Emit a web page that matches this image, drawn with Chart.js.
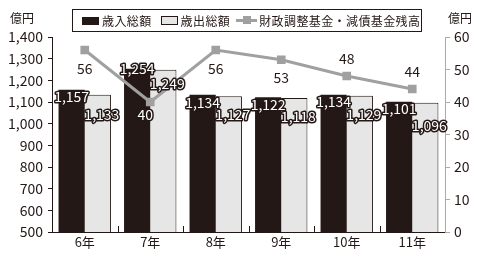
<!DOCTYPE html>
<html>
<head>
<meta charset="utf-8">
<script src="https://cdn.jsdelivr.net/npm/chart.js@4/dist/chart.umd.min.js"></script>
<style>
body{margin:0;background:#fff;font-family:"Noto Sans CJK JP",sans-serif;}
#wrap{position:relative;width:490px;height:260px;}
#legend{position:absolute;left:72px;top:9px;width:348px;height:21px;border:1px solid #231815;
display:flex;align-items:center;font-size:12px;letter-spacing:0.4px;color:#231815;white-space:nowrap;box-sizing:content-box;}
#legend span.box{display:inline-block;width:17px;height:8px;margin:0 3px 0 9px;}
#legend span.ln{display:inline-block;width:21px;height:3px;background:#a0a0a0;position:relative;margin:0 2px 0 6px;}
#legend span.ln:after{content:"";position:absolute;left:7px;top:-3px;width:8px;height:8px;background:#a0a0a0;}
.unit{position:absolute;top:9px;font-size:12px;color:#231815;}
</style>
</head>
<body>
<div id="wrap">
<canvas id="c" width="490" height="260"></canvas>
<div class="unit" style="left:10px">億円</div>
<div class="unit" style="left:448px">億円</div>
<div id="legend">
<span class="box" style="background:#231815"></span>歳入総額
<span class="box" style="background:#e6e6e6;border:1px solid #231815;width:15px;height:7px"></span>歳出総額
<span class="ln"></span>財政調整基金・減債基金残高
</div>
</div>
<script>
const years = ["6年","7年","8年","9年","10年","11年"]
const revenue = [1157,1254,1134,1122,1134,1101]
const expense = [1133,1249,1127,1118,1129,1096]
const fund = [56,40,56,53,48,44]

const dark = "#231815"
const font = '"Noto Sans CJK JP", sans-serif'

// label offsets (style only)
const revDy = [7,0,8,7,7,7]
const expDy = [20,14,19,19,19,23]
const fundDy = [19,13,19,18,-17,-17]

const labels = {
id:"labels",
afterDatasetsDraw(chart){
let ctx = chart.ctx
ctx.save()
ctx.font = "14px "+font
ctx.textAlign = "center"
ctx.textBaseline = "middle"
ctx.lineJoin = "round"

function outlined(t,x,y){
ctx.lineWidth = 3
ctx.strokeStyle = dark
ctx.strokeText(t,x,y)
ctx.fillStyle = "#fff"
ctx.fillText(t,x,y)
}

chart.getDatasetMeta(0).data.forEach((b,i)=>{
outlined(revenue[i].toLocaleString("en-US"), b.x, b.y+revDy[i])
})
chart.getDatasetMeta(1).data.forEach((b,i)=>{
outlined(expense[i].toLocaleString("en-US"), b.x+4, b.y+expDy[i])
})
chart.getDatasetMeta(2).data.forEach((p,i)=>{
if(i==1){ outlined(String(fund[i]), p.x-5, p.y+fundDy[i]) }
else{
ctx.fillStyle = dark
ctx.fillText(String(fund[i]), p.x, p.y+fundDy[i])
}
})

// small upward ticks between categories on the x axis
let x = chart.scales.x, a = chart.chartArea
ctx.strokeStyle = dark
ctx.lineWidth = 1
for(let i=1;i<years.length;i++){
let px = Math.round((x.getPixelForValue(i-1)+x.getPixelForValue(i))/2)+0.5
ctx.beginPath()
ctx.moveTo(px,a.bottom)
ctx.lineTo(px,a.bottom-6)
ctx.stroke()
}
ctx.restore()
}
}

new Chart(document.getElementById("c"),{
type:"bar",
data:{
labels:years,
datasets:[
{label:"歳入総額",data:revenue,backgroundColor:dark,borderWidth:0,yAxisID:"y",order:2},
{label:"歳出総額",data:expense,backgroundColor:"#e6e6e6",borderColor:dark,
borderWidth:{top:1,right:1,left:0,bottom:0},yAxisID:"y",order:2},
{type:"line",label:"財政調整基金・減債基金残高",data:fund,yAxisID:"y2",
borderColor:"#a0a0a0",borderWidth:3,pointStyle:"rect",pointRadius:4,
pointBackgroundColor:"#a0a0a0",pointBorderColor:"#a0a0a0",order:1}
]
},
options:{
responsive:false,
animation:false,
layout:{padding:{top:37,left:0,right:0,bottom:0}},
datasets:{bar:{barPercentage:1,categoryPercentage:0.8}},
plugins:{legend:{display:false},tooltip:{enabled:false}},
scales:{
x:{
grid:{display:false},
border:{color:dark},
ticks:{color:dark,font:{family:font,size:13},padding:-6},
afterFit(s){s.height=28}
},
y:{
min:500,max:1400,
ticks:{stepSize:100,color:dark,font:{family:font,size:14},padding:5,
callback:v=>v.toLocaleString("en-US")},
grid:{drawOnChartArea:false,color:dark,tickLength:4},
border:{color:dark},
afterFit(s){s.width=52}
},
y2:{
position:"right",
min:0,max:60,
ticks:{stepSize:10,color:dark,font:{family:font,size:14},padding:4},
grid:{drawOnChartArea:false,color:"#aaa",tickLength:5},
border:{color:"#aaa"},
afterFit(s){s.width=45}
}
}
},
plugins:[labels]
})
</script>
</body>
</html>
